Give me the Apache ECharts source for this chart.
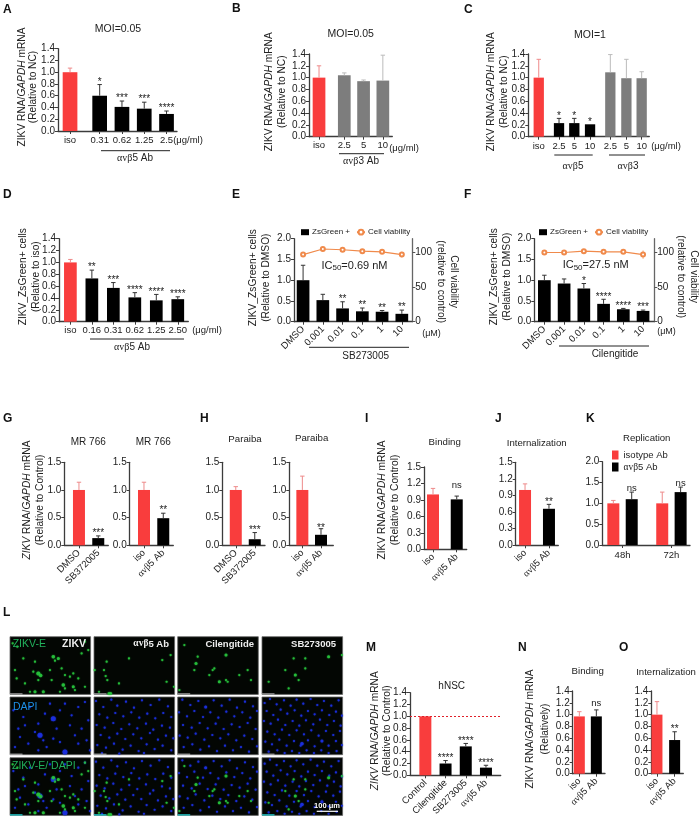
<!DOCTYPE html>
<html>
<head>
<meta charset="utf-8">
<style>html,body{margin:0;padding:0;background:#fff}#c{width:700px;height:821px}</style>
<script src="https://cdn.jsdelivr.net/npm/echarts@6/dist/echarts.min.js"></script>
</head>
<body>
<div id="c"></div>
<script>
// ---------- data ----------
const catsA=['iso','0.31','0.62','1.25','2.5'], valsA=[1.0,0.60,0.41,0.38,0.29], topsA=[1.07,0.79,0.51,0.49,0.34], sigA=['','*','***','***','****'];
const catsB=['iso','2.5','5','10'], valsB=[1.0,1.04,0.94,0.95], topsB=[1.2,1.08,0.96,1.38], sigB=['','','',''];
const catsC=['iso','2.5','5','10','2.5','5','10'], valsC=[1.0,0.23,0.23,0.21,1.09,0.99,0.99], topsC=[1.31,0.31,0.31,0.21,1.39,1.31,1.10], sigC=['','*','*','*','','',''];
const catsD=['iso','0.16','0.31','0.62','1.25','2.50'], valsD=[1.0,0.73,0.57,0.41,0.36,0.38], topsD=[1.05,0.87,0.66,0.49,0.46,0.42], sigD=['','**','***','****','****','****'];
const catsE=['DMSO','0.001','0.01','0.1','1','10'], valsE=[1.0,0.52,0.32,0.25,0.24,0.19], topsE=[1.36,0.66,0.48,0.33,0.27,0.28], sigE=['','','**','**','**','**'];
const viabE=[97,105,104,102,101,97], viabErrE=[3,2,1,1,2,4];
const catsF=['DMSO','0.001','0.01','0.1','1','10'], valsF=[1.0,0.92,0.80,0.43,0.30,0.26], topsF=[1.12,1.03,0.92,0.54,0.32,0.28], sigF=['','','*','****','****','***'];
const viabF=[100,100,102,101,101,97], viabErrF=[2,2,3,2,3,6];
const catsG1=['DMSO','SB372005'], valsG1=[1.0,0.13], topsG1=[1.14,0.17], sigG1=['','***'];
const catsG2=['iso','αvβ5 Ab'], valsG2=[1.0,0.49], topsG2=[1.14,0.58], sigG2=['','**'];
const catsH1=['DMSO','SB372005'], valsH1=[1.0,0.11], topsH1=[1.06,0.23], sigH1=['','***'];
const catsH2=['iso','αvβ5 Ab'], valsH2=[1.0,0.19], topsH2=[1.25,0.30], sigH2=['','**'];
const catsI=['iso','αvβ5 Ab'], valsI=[1.0,0.91], topsI=[1.11,0.97], sigI=['','ns'];
const catsJ=['iso','αvβ5 Ab'], valsJ=[1.0,0.66], topsJ=[1.11,0.74], sigJ=['','**'];
const catsK=['48h','72h'], valsKiso=[1.0,1.0], topsKiso=[1.07,1.27], valsKab=[1.10,1.27], topsKab=[1.27,1.39], sigKab=['ns','ns'];
const catsM=['Control','Cilengitide','SB273005','αvβ5 Ab'], valsM=[1.0,0.20,0.49,0.13], topsM=[1.0,0.25,0.54,0.17], sigM=['','****','****','****'];
const catsN=['iso','αvβ5 Ab'], valsN=[0.97,0.97], topsN=[1.05,1.08], sigN=['','ns'];
const catsO=['iso','αvβ5 Ab'], valsO=[1.0,0.57], topsO=[1.22,0.71], sigO=['','**'];

// panel L: fluorescent spots read from each micrograph field [x, y, optional size]
const greenZikv=[[8,20],[22,30],[75,75],[130,60,3.5],[145,65,3],[135,72],[70,105],[85,110,4],[92,116,3.5],[85,130],[75,165,3],[100,165,3],[155,95],[165,115],[180,120],[190,110],[215,50],[225,15],[235,40],[205,125],[160,145,3.5],[165,155],[190,150,3],[195,160],[150,165],[120,100],[125,130],[40,65],[15,100],[20,125],[60,165],[225,150],[45,140]];
const greenAb=[[38,75],[105,65],[205,70],[230,55],[30,100],[2,100],[35,118],[40,130],[75,140],[218,135],[240,150],[45,170,3],[50,170,3],[15,165]];
const greenCil=[[20,25],[55,80,3],[50,100],[60,60],[145,55,3],[105,100],[110,95],[95,115],[185,115],[210,100],[125,135,3],[145,130],[150,135],[5,160],[220,130]];
const greenSb=[[95,65],[70,100],[100,115,3],[110,130],[130,95],[200,60,3],[240,55],[20,135],[80,155],[130,65]];
const blueZikv=[[10,40],[25,95],[40,60],[60,30],[75,105],[90,115,5],[85,80],[105,50],[120,20],[130,65,5],[150,40],[165,20],[185,55],[205,30],[225,15],[235,70],[215,95],[195,115],[165,165,5],[150,135],[130,125],[110,150],[85,160],[55,140],[30,120],[15,150],[45,85],[180,85],[205,140],[230,130],[240,160],[140,95],[100,130]];
const blueAb=[[6,12],[28,30],[52,8],[70,26],[96,14],[120,32],[144,10],[170,24],[196,8],[222,28],[16,52],[40,62],[64,48],[88,58],[112,46],[136,62],[160,50],[184,64],[208,48],[232,60],[8,84],[32,92],[58,78],[82,96],[106,82],[130,94],[156,80],[178,98],[204,86],[228,92],[20,114],[46,122],[70,110],[94,126],[118,112],[142,124],[168,108],[192,128],[216,116],[238,124],[10,144],[36,152],[60,140],[86,158],[110,146],[134,162],[158,142],[182,156],[206,146],[232,160],[24,168],[76,170],[150,168]];
const blueCil=[[14,8],[38,24],[62,12],[84,30,3],[108,10],[132,26],[156,8],[178,32],[202,14],[226,28],[4,46],[28,58],[50,42],[76,60],[98,46],[122,62],[146,44],[170,58],[194,46],[218,62],[238,42],[16,84],[42,92],[66,78],[90,94],[114,80],[138,96],[162,82],[186,90],[210,78],[234,96],[6,116],[30,122],[54,110],[80,128],[104,114],[128,124],[152,112],[176,130],[200,116],[224,126],[18,150],[44,142],[68,158],[94,148],[118,162],[142,146],[166,160],[190,150],[214,164],[238,148]];
const blueSb=[[8,18],[24,6],[44,22],[66,10],[86,26],[104,8],[124,20],[146,6],[166,24],[186,12],[208,26],[230,10],[14,42],[34,54],[56,38],[76,50],[98,40],[118,56],[138,42],[158,52],[180,40],[202,54],[222,44],[240,56],[6,72],[26,80],[48,68],[70,84],[92,72],[112,86],[132,70],[154,82],[174,68],[196,84],[216,72],[236,86],[16,104],[38,112],[60,98],[82,114],[104,100],[126,112],[148,100],[170,116],[192,102],[214,114],[234,102],[10,134],[30,142],[52,128],[74,146],[96,132],[116,146],[138,130],[158,148],[180,132,3],[120,140,3.5],[200,146],[222,132],[240,144],[20,164],[46,160],[68,168],[90,162],[112,168],[134,160],[156,168],[178,160],[200,168],[224,162]];

// ---------- style ----------
const RED='#f93d3d', BLACK='#000', GRAY='#7d7d7d', INK='#222', FONT='"Liberation Sans",Arial,sans-serif', SERIF='"Liberation Serif",serif';
const errColor={[RED]:'#ee8a8a',[BLACK]:'#333',[GRAY]:'#bbb'};
const axisColor='#3c3c3c';
const greek=s=>s.replace('αvβ','{g|αvβ}');
const richFor=(size,col,w)=>({g:{fontFamily:SERIF,fontSize:size,fontWeight:w||'normal',fill:col||INK,color:col||INK},
  i:{fontStyle:'italic',fontFamily:FONT,fontSize:size},
  s:{fontSize:size-3,fontFamily:FONT,verticalAlign:'bottom',padding:[5,0,0,0]}});

const grids=[],xAxes=[],yAxes=[],series=[],texts=[],legends=[];

function T(text,x,y,o={}){
  const size=o.size||10;
  texts.push({type:'text',x,y,rotation:o.rot||0,z:50,silent:true,style:{
    text:greek(text),fontSize:size,fontFamily:o.family||FONT,fontWeight:o.weight||'normal',
    fill:o.color||INK,textAlign:o.align||'center',textVerticalAlign:'middle',rich:richFor(size,o.color,o.weight)}});
}
function L(x1,y1,x2,y2,color,w){
  texts.push({type:'line',z:50,silent:true,shape:{x1,y1,x2,y2},style:{stroke:color||INK,lineWidth:w||1}});
}
const panelLetter=(t,x,y)=>T(t,x,y,{size:12,weight:'bold',align:'left',color:'#111'});

// one bar panel: everything goes through the panel's own x / y value axes
function barPanel(p){
  const g=grids.length;
  grids.push({left:p.l,top:p.t,width:p.r-p.l,height:p.b-p.t,containLabel:false});
  const slots=p.slots, lblSlots=p.labelSlots||slots, fs=p.fs||9.5;
  xAxes.push({gridIndex:g,type:'value',min:p.xMin,max:p.xMax,
    axisLine:{show:true,onZero:false,lineStyle:{color:axisColor,width:1.3}},
    axisTick:{show:true,customValues:lblSlots,length:3,lineStyle:{color:axisColor}},
    splitLine:{show:false},
    axisLabel:{customValues:lblSlots,rotate:p.rot||0,fontSize:fs,fontFamily:FONT,color:INK,margin:p.lblMargin||(p.rot?6:4),hideOverlap:false,
      showMinLabel:true,showMaxLabel:true,rich:{g:{fontFamily:SERIF,fontSize:fs,color:INK}},
      formatter:v=>{let b=0;lblSlots.forEach((s,i)=>{if(Math.abs(s-v)<Math.abs(lblSlots[b]-v))b=i;});return greek(p.cats[b]);}}});
  yAxes.push({gridIndex:g,type:'value',min:0,max:p.yMax,interval:p.yStep,
    axisLine:{show:true,onZero:false,lineStyle:{color:axisColor,width:1.3}},
    axisTick:{show:true,length:3,lineStyle:{color:axisColor}},splitLine:{show:false},
    axisLabel:{fontSize:fs+0.5,fontFamily:FONT,color:INK,margin:3,formatter:v=>v.toFixed(p.yDec==null?1:p.yDec)}});
  const xi=xAxes.length-1, yi=yAxes.length-1;
  (p.groups||[{vals:p.vals,tops:p.tops,sig:p.sig,colors:p.colors,name:p.name||p.id,idx:slots.map((_,i)=>i)}]).forEach(gr=>{
    series.push({type:'bar',name:gr.name,xAxisIndex:xi,yAxisIndex:yi,barWidth:p.bw,barGap:'-100%',silent:true,
      itemStyle:{color:gr.color||BLACK},
      data:gr.vals.map((v,i)=>({value:[slots[gr.idx[i]],v],itemStyle:{color:gr.colors?gr.colors[i]:gr.color}})),
      markLine:p.refLine!=null?{silent:true,symbol:'none',label:{show:false},lineStyle:{color:'#e0202a',type:[2,2],width:1.2},data:[{yAxis:p.refLine}]}:undefined});
    series.push({type:'custom',name:gr.name+' err',xAxisIndex:xi,yAxisIndex:yi,silent:true,clip:false,z:5,
      data:gr.vals.map((v,i)=>[slots[gr.idx[i]],gr.tops[i]]),
      encode:{x:0,y:1},
      renderItem:(params,api)=>{
        const i=params.dataIndex, x=api.value(0), top=api.value(1), v=gr.vals[i];
        const a=api.coord([x,v]), b=api.coord([x,top]);
        const col=gr.colors?gr.colors[i]:gr.color, ec=errColor[col];
        const cap=p.cap||2.2, ch=[];
        if(top>v) ch.push({type:'line',shape:{x1:a[0],y1:a[1],x2:b[0],y2:b[1]},style:{stroke:ec,lineWidth:1}},
                          {type:'line',shape:{x1:b[0]-cap,y1:b[1],x2:b[0]+cap,y2:b[1]},style:{stroke:ec,lineWidth:1}});
        const s=gr.sig&&gr.sig[i];
        if(s){
          const isNs=s==='ns';
          const gap=isNs?(p.nsGap==null?9:p.nsGap):(p.starGap==null?2.5:p.starGap);
          ch.push({type:'text',x:b[0],y:b[1]-gap,style:{text:s,fontFamily:FONT,fontSize:isNs?9.5:10,fill:INK,textAlign:'center',textVerticalAlign:'middle'}});
        }
        return {type:'group',children:ch};
      }});
  });
  if(p.viab){
    xAxes.push({gridIndex:g,type:'value',min:p.xMin,max:p.xMax,show:false});
    yAxes.push({gridIndex:g,type:'value',position:'right',min:0,max:120,
      axisLine:{show:true,onZero:false,lineStyle:{color:'#666',width:1.3}},
      axisTick:{show:true,customValues:[0,50,100],length:3,lineStyle:{color:'#555'}},splitLine:{show:false},
      axisLabel:{customValues:[0,50,100],fontSize:fs+0.5,fontFamily:FONT,color:INK,margin:3}});
    const xv=xAxes.length-1, yv=yAxes.length-1;
    series.push({type:'line',name:'Cell viability',xAxisIndex:xv,yAxisIndex:yv,silent:true,z:6,
      data:p.viab.map((v,i)=>[slots[i],v]),symbol:'emptyCircle',symbolSize:4,
      lineStyle:{color:'#f08a4b',width:1.1},itemStyle:{color:'#f08a4b',borderWidth:1}});
    series.push({type:'custom',name:'viability err',xAxisIndex:xv,yAxisIndex:yv,silent:true,z:5,
      data:p.viab.map((v,i)=>[slots[i],v]),encode:{x:0,y:1},
      renderItem:(params,api)=>{
        const e=p.viabErr[params.dataIndex], x=api.value(0), y=api.value(1);
        const a=api.coord([x,y-e]), b=api.coord([x,y+e]);
        return {type:'line',shape:{x1:a[0],y1:a[1],x2:b[0],y2:b[1]},style:{stroke:'#f08a4b',lineWidth:0.8}};
      }});
    legends.push({data:[{name:'ZsGreen +',icon:'rect'},{name:'Cell viability'}],left:p.legendLeft,top:p.t-10.5,itemWidth:8,itemHeight:6,itemGap:6,padding:0,selectedMode:false,
      textStyle:{fontSize:8,fontFamily:FONT,color:INK,padding:[0,0,0,-2]}});
  }
}

const R=RED,K=BLACK,Y=GRAY;

// --- Row 1 ---
barPanel({id:'A',l:58,r:177,t:48.7,b:131,slots:[0,1.33,2.33,3.33,4.33],xMin:-0.54,xMax:4.8,yMax:1.4,yStep:0.2,bw:14.7,cats:catsA,vals:valsA,tops:topsA,sig:sigA,colors:[R,K,K,K,K]});
barPanel({id:'B',l:309,r:392.3,t:54,b:136.7,slots:[0,1.31,2.31,3.31],xMin:-0.52,xMax:3.8,yMax:1.4,yStep:0.2,bw:12.7,cats:catsB,vals:valsB,tops:topsB,sig:sigB,colors:[R,Y,Y,Y]});
barPanel({id:'C',l:528.3,r:649.3,t:54,b:136.7,slots:[0,1.3,2.28,3.29,4.59,5.62,6.6],xMin:-0.67,xMax:7.09,yMax:1.4,yStep:0.2,bw:10.3,cats:catsC,vals:valsC,tops:topsC,sig:sigC,colors:[R,K,K,K,Y,Y,Y],lblMargin:5});
// --- Row 2 ---
barPanel({id:'D',l:59,r:188.3,t:238.7,b:321.7,slots:[0,1,2,3,4,5],xMin:-0.53,xMax:5.49,yMax:1.4,yStep:0.2,bw:12.7,cats:catsD,vals:valsD,tops:topsD,sig:sigD,colors:[R,K,K,K,K,K]});
barPanel({id:'E',name:'ZsGreen +',l:294,r:412.3,t:238.7,b:321.7,slots:[0,1,2,3,4,5],xMin:-0.46,xMax:5.53,yMax:2,yStep:0.5,bw:12.7,rot:45,cats:catsE,vals:valsE,tops:topsE,sig:sigE,colors:[K,K,K,K,K,K],viab:viabE,viabErr:viabErrE,legendLeft:301});
barPanel({id:'F',name:'ZsGreen +',l:534.3,r:654.3,t:238.7,b:321.7,slots:[0,1,2,3,4,5],xMin:-0.51,xMax:5.57,yMax:2,yStep:0.5,bw:12.7,rot:45,cats:catsF,vals:valsF,tops:topsF,sig:sigF,colors:[K,K,K,K,K,K],viab:viabF,viabErr:viabErrF,legendLeft:539});
// --- Row 3 ---
barPanel({id:'G1',l:64.3,r:108.3,t:462.3,b:545.3,slots:[0,1],xMin:-0.76,xMax:1.52,yMax:1.5,yStep:0.5,bw:12,rot:45,cats:catsG1,vals:valsG1,tops:topsG1,sig:sigG1,colors:[R,K]});
barPanel({id:'G2',l:129.7,r:173.3,t:462.3,b:545.3,slots:[0,1],xMin:-0.74,xMax:1.52,yMax:1.5,yStep:0.5,bw:12,rot:45,cats:catsG2,vals:valsG2,tops:topsG2,sig:sigG2,colors:[R,K]});
barPanel({id:'H1',l:222.3,r:265,t:462.3,b:545.3,slots:[0,1],xMin:-0.71,xMax:1.54,yMax:1.5,yStep:0.5,bw:12,rot:45,cats:catsH1,vals:valsH1,tops:topsH1,sig:sigH1,colors:[R,K]});
barPanel({id:'H2',l:289.3,r:333.3,t:462.3,b:545.3,slots:[0,1],xMin:-0.70,xMax:1.66,yMax:1.5,yStep:0.5,bw:12,rot:45,cats:catsH2,vals:valsH2,tops:topsH2,sig:sigH2,colors:[R,K],starGap:0});
barPanel({id:'I',l:424,r:466.7,t:467,b:549.3,slots:[0,1],xMin:-0.38,xMax:1.42,yMax:1.5,yStep:0.3,bw:12,rot:45,cats:catsI,vals:valsI,tops:topsI,sig:sigI,colors:[R,K],nsGap:11});
barPanel({id:'J',l:515.7,r:558.3,t:462.3,b:545.3,slots:[0,1],xMin:-0.39,xMax:1.39,yMax:1.5,yStep:0.3,bw:12,rot:45,cats:catsJ,vals:valsJ,tops:topsJ,sig:sigJ,colors:[R,K]});
barPanel({id:'K',l:602.3,r:690,t:461.7,b:545,slots:[0,1,2.66,3.66],labelSlots:[0.5,3.16],xMin:-0.6,xMax:4.17,yMax:2,yStep:0.5,bw:12,cats:catsK,lblMargin:5,nsGap:4,
  groups:[{name:'isotype Ab',color:R,vals:valsKiso,tops:topsKiso,idx:[0,2]},{name:'αvβ5 Ab',color:K,vals:valsKab,tops:topsKab,sig:sigKab,idx:[1,3]}]});
legends.push({data:['isotype Ab','αvβ5 Ab'],orient:'vertical',left:612,top:450,itemWidth:6.5,itemHeight:9,itemGap:2,icon:'rect',padding:0,selectedMode:false,
  formatter:n=>greek(n),textStyle:{fontSize:9.5,fontFamily:FONT,color:INK,rich:{g:{fontFamily:SERIF,fontSize:9.5,color:INK}}}});
// --- Row 4 ---
barPanel({id:'M',l:410,r:500.7,t:692.7,b:775.3,slots:[0,1,2,3],xMin:-0.76,xMax:3.73,yMax:1.4,yStep:0.2,bw:12,rot:45,cats:catsM,vals:valsM,tops:topsM,sig:sigM,colors:[R,K,K,K],refLine:1});
barPanel({id:'N',l:572.7,r:605,t:691,b:773.7,slots:[0,1],xMin:-0.39,xMax:1.51,yMax:1.4,yStep:0.2,bw:11,rot:45,cats:catsN,vals:valsN,tops:topsN,sig:sigN,colors:[R,K],nsGap:7});
barPanel({id:'O',l:651.3,r:683.3,t:691,b:773.7,slots:[0,1],xMin:-0.32,xMax:1.49,yMax:1.4,yStep:0.2,bw:11,rot:45,cats:catsO,vals:valsO,tops:topsO,sig:sigO,colors:[R,K]});

// --- Panel L micrograph fields ---
function field(l,t,layers){
  const g=grids.length;
  grids.push({left:l,top:t,width:80.6,height:57.7,show:true,backgroundColor:'#030603',borderColor:'#666',borderWidth:0.8});
  xAxes.push({gridIndex:g,type:'value',min:0,max:242,show:false});
  yAxes.push({gridIndex:g,type:'value',min:0,max:173,inverse:true,show:false});
  layers.forEach(([pts,col])=>series.push({type:'scatter',xAxisIndex:xAxes.length-1,yAxisIndex:yAxes.length-1,silent:true,
    data:pts,symbolSize:d=>d[2]||2.2,itemStyle:{color:col,opacity:0.9,shadowBlur:1.5,shadowColor:col},animation:false}));
}
const colX=[10,94,177.7,262], rowY=[636.7,697,757.7], GREEN='#27c23c', BLUE='#1c30e0';
[greenZikv,greenAb,greenCil,greenSb].forEach((pts,c)=>field(colX[c],rowY[0],[[pts,GREEN]]));
[blueZikv,blueAb,blueCil,blueSb].forEach((pts,c)=>field(colX[c],rowY[1],[[pts,BLUE]]));
[[blueZikv,greenZikv],[blueAb,greenAb],[blueCil,greenCil],[blueSb,greenSb]].forEach(([b,g],c)=>field(colX[c],rowY[2],[[b,BLUE],[g,GREEN]]));
rowY.forEach((y,r)=>colX.forEach(x=>L(x,y+57.2,x+12.5,y+57.2,r===2?'#22dfe0':'#aaa',1.2)));

// --- Text annotation layer ---
[['A',3,10],['B',232,9],['C',464,10],['D',3,195],['E',232,195],['F',464,195],['G',3,419],['H',200,419],['I',365,419],['J',495,419],['K',586,419],['L',3,613],['M',366,648],['N',518,648],['O',619,648]].forEach(a=>panelLetter(...a));

const yT=(t,x,y,o={})=>T(t,x,y,Object.assign({rot:Math.PI/2,size:10.2},o));
const yTr=(t,x,y)=>T(t,x,y,{rot:-Math.PI/2,size:10});

// A
T('MOI=0.05',118,29,{size:10.5}); yT('ZIKV RNA/{i|GAPDH} mRNA',21.7,87); yT('(Relative to NC)',33.5,87);
T('(μg/ml)',188,140,{size:9.5}); L(101,150.7,170,150.7,INK,1); T('αvβ5 Ab',135,158.5,{size:10});
// B
T('MOI=0.05',350.7,34,{size:10.5}); yT('ZIKV RNA/{i|GAPDH} mRNA',269.3,91.7); yT('(Relative to NC)',282.3,91.7);
T('(μg/ml)',404,148,{size:9.5}); L(339,153.7,384,153.7,INK,1); T('αvβ3 Ab',361,161.5,{size:10});
// C
T('MOI=1',590,35,{size:10.5}); yT('ZIKV RNA/{i|GAPDH} mRNA',491,91.7); yT('(Relative to NC)',503.7,91.7);
T('(μg/ml)',666,146,{size:9.5}); L(554.3,155,592.7,155,INK,1); L(609,155,645,155,INK,1);
T('αvβ5',573,166.7,{size:10}); T('αvβ3',628,166.7,{size:10});
// D
yT('ZIKV_ZsGreen+ cells',23,276.7); yT('(Relative to iso)',36,276.7);
T('(μg/ml)',207,330,{size:9.5}); L(90,339,184,339,INK,1); T('αvβ5 Ab',132,347,{size:10});
// E
yT('ZIKV_ZsGreen+ cells',252.7,277.7); yT('(Relative to DMSO)',265.7,277.7);
yTr('(relative to control)',441,281.7); yTr('Cell viability',454,281.7);
T('IC{s|50}=0.69 nM',354.5,265.7,{size:11});
T('(μM)',431.5,334,{size:9}); L(309,347.3,409,347.3,INK,1); T('SB273005',365.7,356,{size:10});
// F
yT('ZIKV_ZsGreen+ cells',494.3,276.7); yT('(Relative to DMSO)',506.7,276.7);
yTr('(relative to control)',680.7,276.7); yTr('Cell viability',693.3,276.7);
T('IC{s|50}=27.5 nM',595.7,265,{size:11});
T('(μM)',666.5,331.7,{size:9}); L(559,346,649,346,INK,1); T('Cilengitide',615,354,{size:10});
// G
T('MR 766',88.3,442.7,{size:10}); T('MR 766',153.3,442.7,{size:10});
yT('{i|ZIKV} RNA/{i|GAPDH} mRNA',26.7,500); yT('(Relative to Control)',40,500);
// H
T('Paraiba',245,439.3,{size:9.7}); T('Paraiba',311.7,438.7,{size:9.7});
// I J K
T('Binding',444.7,442.7,{size:9.7}); yT('ZIKV RNA/{i|GAPDH} mRNA',382.3,500); yT('(Relative to Control)',395,500);
T('Internalization',536.7,443.3,{size:9.6});
T('Replication',646.7,438.7,{size:9.6});
// L overlays
T('ZIKV-E',12.7,644,{size:10.5,align:'left',color:'#22b05c'}); T('ZIKV',86,644,{size:10.5,align:'right',color:'#eee',weight:'bold'});
T('αvβ5 Ab',169,644,{size:9.5,align:'right',color:'#eee',weight:'bold'});
T('Cilengitide',254,644,{size:9.5,align:'right',color:'#eee',weight:'bold'}); T('SB273005',336,644,{size:9.5,align:'right',color:'#eee',weight:'bold'});
T('DAPI',13,706.7,{size:10.5,align:'left',color:'#1e8fe6'}); T('ZIKV-E/ DAPI',12,765.7,{size:10.5,align:'left',color:'#22b05c'});
T('100 μm',327,806,{size:7.5,color:'#fff',weight:'bold'}); L(316.7,811.3,338,811.3,'#fff',1.2);
// M N O
T('hNSC',451.7,686,{size:10}); yT('{i|ZIKV} RNA/{i|GAPDH} mRNA',375,730.7); yT('(Relative to Control)',387.3,730.7);
T('Binding',587.7,671.3,{size:9.7}); yT('ZIKV RNA/{i|GAPDH} mRNA',530,729); yT('(Relatively)',545,729);
T('Internalization',666,672,{size:9.6});

const chart=echarts.init(document.getElementById('c'),null,{renderer:'canvas'});
chart.setOption({animation:false,backgroundColor:'#fff',tooltip:{show:false},
  grid:grids,xAxis:xAxes,yAxis:yAxes,series,legend:legends,graphic:{elements:texts}});
</script>
</body>
</html>
